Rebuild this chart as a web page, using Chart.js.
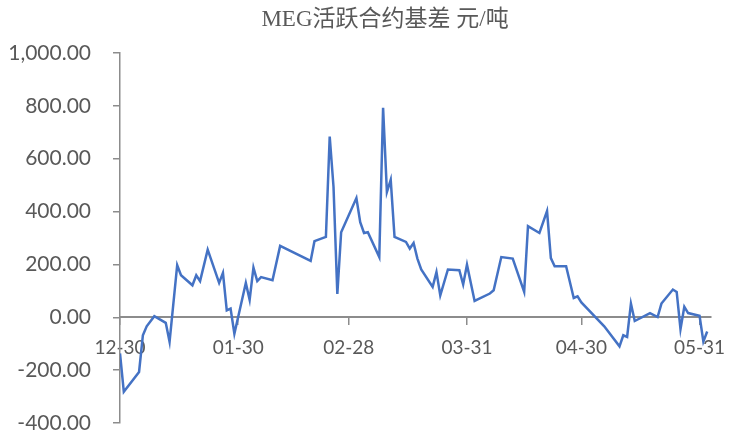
<!DOCTYPE html>
<html>
<head>
<meta charset="utf-8">
<script src="https://cdn.jsdelivr.net/npm/chart.js@4/dist/chart.umd.min.js"></script>
<style>
  html, body { margin: 0; padding: 0; background: #ffffff; }
  #wrap { width: 731px; height: 437px; }
</style>
</head>
<body>
<div id="wrap"><canvas id="c" width="731" height="437"></canvas></div>
<script>
// MEG most-active contract basis, yuan per tonne
const chartTitle = 'MEG活跃合约基差 元/吨';

const tradeDates = [
  '2020-12-30', '2020-12-31',
  '2021-01-04', '2021-01-05', '2021-01-06', '2021-01-08', '2021-01-11', '2021-01-12',
  '2021-01-14', '2021-01-15', '2021-01-18', '2021-01-19', '2021-01-20', '2021-01-22',
  '2021-01-25', '2021-01-26', '2021-01-27', '2021-01-28', '2021-01-29',
  '2021-02-01', '2021-02-02', '2021-02-03', '2021-02-04', '2021-02-05', '2021-02-08',
  '2021-02-10', '2021-02-18', '2021-02-19', '2021-02-22', '2021-02-23', '2021-02-24',
  '2021-02-25', '2021-02-26',
  '2021-03-02', '2021-03-03', '2021-03-04', '2021-03-05', '2021-03-08', '2021-03-09',
  '2021-03-10', '2021-03-11', '2021-03-12', '2021-03-15', '2021-03-16', '2021-03-17',
  '2021-03-18', '2021-03-19', '2021-03-22', '2021-03-23', '2021-03-24', '2021-03-26',
  '2021-03-29', '2021-03-30', '2021-03-31',
  '2021-04-02', '2021-04-06', '2021-04-07', '2021-04-09', '2021-04-12', '2021-04-15',
  '2021-04-16', '2021-04-19', '2021-04-21', '2021-04-22', '2021-04-23', '2021-04-26',
  '2021-04-28', '2021-04-29', '2021-04-30',
  '2021-05-06', '2021-05-10', '2021-05-11', '2021-05-12', '2021-05-13', '2021-05-14',
  '2021-05-18', '2021-05-20', '2021-05-21', '2021-05-24', '2021-05-25', '2021-05-26',
  '2021-05-27', '2021-05-28', '2021-05-31',
  '2021-06-01', '2021-06-02'
];

const basis = [
  -137, -282,
  -207, -68, -34, 4, -21, -93,
  197, 159, 121, 159, 137, 256,
  130, 168, 26, 33, -62,
  130, 66, 188, 137, 152, 140,
  270, 213, 288, 304, 684, 493,
  88, 322,
  451, 360, 319, 322, 228, 793,
  474, 520, 304, 285, 260, 281,
  222, 181, 115, 171, 83, 181,
  178, 124, 199,
  62, 90, 102, 228, 222, 96,
  345, 319, 402, 224, 193, 193,
  73, 79, 56,
  -34, -110, -68, -74, 52, -14,
  16, 1, 52, 105, 96, -45,
  40, 16, 6,
  -92, -54
];

// dates printed under the horizontal axis
const tickDates = ['2020-12-30', '2021-01-30', '2021-02-28', '2021-03-31', '2021-04-30', '2021-05-31'];
const tickLabels = ['12-30', '01-30', '02-28', '03-31', '04-30', '05-31'];

const axisEndDate = '2021-06-03';
const yMin = -400, yMax = 1000, yStep = 200;

// days elapsed since the first trading date
const DAY = 86400000;
const origin = Date.parse(tradeDates[0] + 'T00:00:00Z');
const dayOf = d => Math.round((Date.parse(d + 'T00:00:00Z') - origin) / DAY);

const points = tradeDates.map((d, i) => ({ x: dayOf(d), y: basis[i] }));
const tickDays = tickDates.map(dayOf);

const grey = '#595959';
const axisGrey = '#8c8c8c';
const family = 'Lato, "Open Sans", sans-serif';

// the axes must not push the plot area inwards; the layout padding sets it
const noAxisPadding = s => {
  s.paddingLeft = 0; s.paddingRight = 0; s.paddingTop = 0; s.paddingBottom = 0;
};

const titlePlugin = {
  id: 'topTitle',
  afterDraw(chart) {
    const ctx = chart.ctx;
    ctx.save();
    ctx.font = '23px "Liberation Serif", "Noto Sans CJK SC", serif';
    ctx.fillStyle = grey;
    ctx.textAlign = 'center';
    ctx.textBaseline = 'middle';
    ctx.fillText(chartTitle, 385, 20);
    ctx.restore();
  }
};

new Chart(document.getElementById('c'), {
  type: 'line',
  data: {
    datasets: [{
      data: points,
      borderColor: '#4472c4',
      borderWidth: 2.5,
      pointRadius: 0,
      tension: 0,
      fill: false
    }]
  },
  options: {
    responsive: false,
    animation: false,
    layout: { padding: { top: 53, right: 20, bottom: 14, left: 0 } },
    plugins: { legend: { display: false }, title: { display: false }, tooltip: { enabled: false } },
    scales: {
      x: {
        type: 'linear',
        position: { y: 0 },
        min: 0,
        max: dayOf(axisEndDate),
        afterBuildTicks: s => { s.ticks = tickDays.map(v => ({ value: v })); },
        afterFit: s => { s.height = 0; noAxisPadding(s); },
        ticks: {
          autoSkip: false,
          maxRotation: 0,
          color: grey,
          font: { family, size: 19 },
          padding: 12,
          callback: (v, i) => tickLabels[i]
        },
        grid: { drawOnChartArea: false, drawTicks: true, tickLength: 7, color: axisGrey, lineWidth: 1.5 },
        border: { display: true, color: axisGrey, width: 2 }
      },
      y: {
        min: yMin,
        max: yMax,
        afterFit: s => { s.width = 120; noAxisPadding(s); },
        ticks: {
          stepSize: yStep,
          color: grey,
          font: { family, size: 21 },
          padding: 22,
          callback: v => Number(v).toLocaleString('en-US', { minimumFractionDigits: 2, maximumFractionDigits: 2 })
        },
        grid: { drawOnChartArea: false, drawTicks: true, tickLength: 7, color: axisGrey, lineWidth: 1.5 },
        border: { display: true, color: axisGrey, width: 1.5 }
      }
    }
  },
  plugins: [titlePlugin]
});
</script>
</body>
</html>
